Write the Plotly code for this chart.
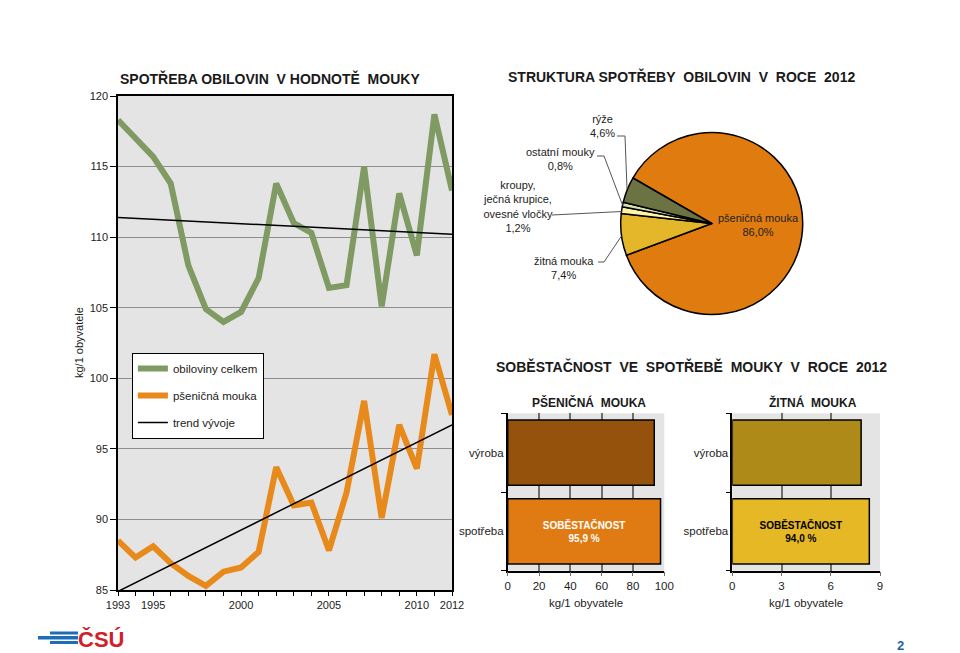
import plotly.graph_objects as go

# ---------------- data ----------------
years = list(range(1993, 2013))
cereals_total = [118.3, 117.0, 115.7, 113.8, 108.0, 104.9, 104.0, 104.7, 107.1, 113.8,
                 111.0, 110.3, 106.4, 106.6, 115.0, 105.1, 113.1, 108.7, 118.7, 113.3]
wheat_flour = [88.5, 87.3, 88.1, 86.9, 86.0, 85.3, 86.3, 86.6, 87.7, 93.7,
               91.0, 91.2, 87.8, 91.9, 98.4, 90.1, 96.7, 93.6, 101.7, 97.4]
trend_years = [1993, 2012]
trend_total = [111.4, 110.2]
trend_wheat = [84.9, 96.7]
x_ticks = [1993, 1995, 2000, 2005, 2010, 2012]

pie_labels = ["pšeničná mouka", "žitná mouka", "kroupy,<br>ječná krupice,<br>ovesné vločky",
              "ostatní mouky", "rýže"]
pie_values = [86.0, 7.4, 1.2, 0.8, 4.6]
pie_colors = ["#DF7B0F", "#E4B62A", "#FFF4A6", "#D6E0AE", "#6C7343"]

bar_categories = ["výroba", "spotřeba"]
wheat_bars = [93.6, 97.6]
rye_bars = [7.85, 8.35]
self_sufficiency = [95.9, 94.0]

FONT = "Liberation Sans, Arial, sans-serif"
W, H = 960, 653


def px(x):
    return x / W


def py(y):
    return 1 - y / H


def fmt(v):
    return f"{v:.1f}".replace(".", ",")


fig = go.Figure()

# ---------------- line chart ----------------
fig.add_trace(go.Scatter(x=years, y=cereals_total, mode="lines", name="obiloviny celkem",
                         line=dict(color="#7F9A63", width=6), legendgroup="a",
                         xaxis="x", yaxis="y"))
fig.add_trace(go.Scatter(x=years, y=wheat_flour, mode="lines", name="pšeničná mouka",
                         line=dict(color="#E8891C", width=6), legendgroup="b",
                         xaxis="x", yaxis="y"))
fig.add_trace(go.Scatter(x=trend_years + [None] + trend_years,
                         y=trend_total + [None] + trend_wheat,
                         mode="lines", name="trend vývoje", connectgaps=False,
                         line=dict(color="black", width=1.5), legendgroup="c",
                         xaxis="x", yaxis="y"))

# ---------------- pie ----------------
fig.add_trace(go.Pie(values=pie_values, labels=pie_labels, sort=False,
                     direction="clockwise", rotation=-60,
                     marker=dict(colors=pie_colors, line=dict(color="black", width=1.5)),
                     textinfo="none", hoverinfo="skip", showlegend=False,
                     domain=dict(x=[px(711.7 - 91), px(711.7 + 91)],
                                 y=[py(223.5 + 91), py(223.5 - 91)])))

# ---------------- bars ----------------
fig.add_trace(go.Bar(y=bar_categories, x=wheat_bars, orientation="h",
                     marker=dict(color=["#94520D", "#DF7B12"], line=dict(color="black", width=1.5)),
                     text=["", f"<b>SOBĚSTAČNOST<br>{fmt(self_sufficiency[0])} %</b>"],
                     textposition="inside", insidetextanchor="middle", textangle=0,
                     textfont=dict(color="white", size=10, family=FONT),
                     showlegend=False, hoverinfo="skip", xaxis="x2", yaxis="y2"))
fig.add_trace(go.Bar(y=bar_categories, x=rye_bars, orientation="h",
                     marker=dict(color=["#AE8A18", "#E6B826"], line=dict(color="black", width=1.5)),
                     text=["", f"<b>SOBĚSTAČNOST<br>{fmt(self_sufficiency[1])} %</b>"],
                     textposition="inside", insidetextanchor="middle", textangle=0,
                     textfont=dict(color="black", size=10, family=FONT),
                     showlegend=False, hoverinfo="skip", xaxis="x3", yaxis="y3"))

axis_font = dict(family=FONT, size=11, color="#222")
bar_axis_font = dict(family=FONT, size=11.5, color="#222")

layout = dict(
    width=W, height=H, margin=dict(l=0, r=0, t=0, b=0, autoexpand=False),
    paper_bgcolor="white", plot_bgcolor="#E4E4E4",
    font=dict(family=FONT, size=11, color="#222"),
    bargap=0.17,
    xaxis=dict(domain=[px(118), px(452)], range=[1993, 2012], tickvals=x_ticks,
               showgrid=False, zeroline=False, showline=True, linecolor="black",
               linewidth=1.5, mirror=True, ticks="outside", ticklen=4, tickcolor="black",
               minor=dict(tick0=1993, dtick=1, ticks="outside", ticklen=4,
                          tickcolor="black", showgrid=False),
               tickfont=axis_font, anchor="y", automargin=False),
    yaxis=dict(domain=[py(590), py(96)], range=[85, 120], dtick=5, showgrid=True,
               gridcolor="#8E8E8E", gridwidth=1, zeroline=False, showline=True,
               linecolor="black", linewidth=1.5, mirror=True, ticks="outside",
               ticklen=6, tickcolor="black", tickfont=axis_font, anchor="x",
               automargin=False),
    xaxis2=dict(domain=[px(507.7), px(664.3)], range=[0, 100], dtick=20, showgrid=True,
                gridcolor="#6E6E6E", gridwidth=1.5, zeroline=False, showline=True,
                linecolor="black", linewidth=1.5, ticks="outside", ticklen=4,
                tickcolor="#6E6E6E", tickfont=bar_axis_font, anchor="y2",
                automargin=False),
    yaxis2=dict(domain=[py(570.7), py(413.3)], categoryorder="array",
                categoryarray=["spotřeba", "výroba"], showgrid=False, zeroline=False,
                showline=True, linecolor="black", linewidth=1.5, ticks="outside",
                tickson="boundaries", ticklen=5, tickcolor="black", tickfont=bar_axis_font,
                anchor="x2", automargin=False),
    xaxis3=dict(domain=[px(732.3), px(880)], range=[0, 9], dtick=3, showgrid=True,
                gridcolor="#6E6E6E", gridwidth=1.5, zeroline=False, showline=True,
                linecolor="black", linewidth=1.5, ticks="outside", ticklen=4,
                tickcolor="#6E6E6E", tickfont=bar_axis_font, anchor="y3",
                automargin=False),
    yaxis3=dict(domain=[py(570.7), py(413.3)], categoryorder="array",
                categoryarray=["spotřeba", "výroba"], showgrid=False, zeroline=False,
                showline=True, linecolor="black", linewidth=1.5, ticks="outside",
                tickson="boundaries", ticklen=5, tickcolor="black", tickfont=bar_axis_font,
                anchor="x3", automargin=False),
    legend=dict(x=px(131.7), y=py(352.7), xanchor="left", yanchor="top",
                bgcolor="white", bordercolor="black", borderwidth=1.2,
                font=dict(family=FONT, size=11.5, color="#222"), tracegroupgap=8,
                itemwidth=30, traceorder="grouped"),
)
fig.update_layout(**layout)

annotations = []


def ann(text, x, y, size=11, bold=False, color="#222", **kw):
    t = f"<b>{text}</b>" if bold else text
    annotations.append(dict(text=t, x=px(x), y=py(y), xref="paper", yref="paper",
                            showarrow=False, font=dict(family=FONT, size=size, color=color),
                            xanchor="center", yanchor="middle", **kw))


# titles
ann("SPOTŘEBA OBILOVIN&nbsp; V HODNOTĚ&nbsp; MOUKY", 270, 78, size=14, bold=True, color="#1a1a1a")
ann("STRUKTURA SPOTŘEBY&nbsp; OBILOVIN&nbsp; V&nbsp; ROCE&nbsp; 2012", 681, 76, size=14, bold=True, color="#1a1a1a")
ann("SOBĚSTAČNOST&nbsp; VE&nbsp; SPOTŘEBĚ&nbsp; MOUKY&nbsp; V&nbsp; ROCE&nbsp; 2012", 691, 366, size=14, bold=True, color="#1a1a1a")
ann("PŠENIČNÁ&nbsp; MOUKA", 589, 402, size=12, bold=True, color="#1a1a1a")
ann("ŽITNÁ&nbsp; MOUKA", 813, 402, size=12, bold=True, color="#1a1a1a")

# axis labels
ann("kg/1 obyvatele", 79, 343, textangle=-90)
ann("kg/1 obyvatele", 586, 603, size=11.5)
ann("kg/1 obyvatele", 806, 603, size=11.5)

# pie labels
pie_label_pos = [(758, 224.5), (564, 267.5), (518, 206.5), (560, 158.5), (602, 125.5)]
for lab, val, (lx, ly) in zip(pie_labels, pie_values, pie_label_pos):
    ann(f"{lab}<br>{fmt(val)}%", lx, ly)

# logo + page number
ann("ČSÚ", 101, 639, size=22, bold=True, color="#D2202A")
ann("2", 900, 645, size=13, bold=True, color="#1F5FA8")

fig.update_layout(annotations=annotations)

shapes = []


def path_shape(points, color="#555", width=1):
    d = "M " + " L ".join(f"{px(x)},{py(y)}" for x, y in points)
    shapes.append(dict(type="path", path=d, xref="paper", yref="paper",
                       line=dict(color=color, width=width)))


path_shape([(617, 136), (625, 136), (627, 189)])
path_shape([(597, 156), (604, 156), (622.5, 205)])
path_shape([(552, 215), (621.5, 211.5)])
path_shape([(598, 262), (604, 262), (621.5, 236)])

for (x0, x1, y0, y1) in [(50, 78, 631.5, 634.5), (38, 78, 636, 639.5), (50, 78, 641, 644)]:
    shapes.append(dict(type="rect", xref="paper", yref="paper", x0=px(x0), x1=px(x1),
                       y0=py(y1), y1=py(y0), fillcolor="#1F6DB8", line=dict(width=0)))

fig.update_layout(shapes=shapes)

fig.write_html("out.html")
